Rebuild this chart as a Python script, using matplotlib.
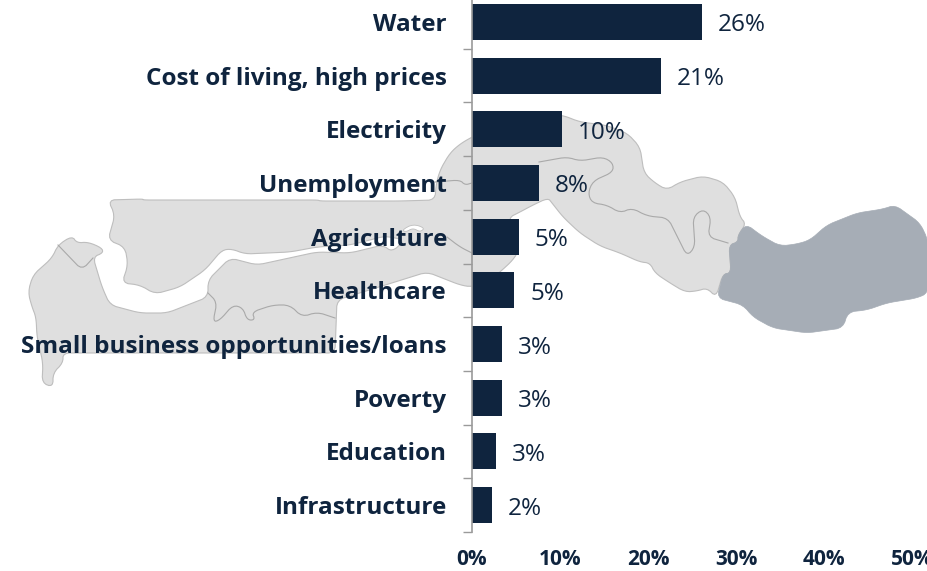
#!/usr/bin/env python3
"""Most important problems bar chart over a faded outline map."""
import matplotlib
matplotlib.use("Agg")
import matplotlib.pyplot as plt
from matplotlib.patches import Polygon
from matplotlib.ticker import FixedLocator

categories = [
    "Water", "Cost of living, high prices", "Electricity", "Unemployment",
    "Agriculture", "Healthcare", "Small business opportunities/loans",
    "Poverty", "Education", "Infrastructure",
]
values = [26.1, 21.5, 10.2, 7.6, 5.3, 4.8, 3.4, 3.4, 2.7, 2.3]
value_labels = ["26%", "21%", "10%", "8%", "5%", "5%", "3%", "3%", "3%", "2%"]
x_ticks = [0, 10, 20, 30, 40, 50]
x_tick_labels = ["0%", "10%", "20%", "30%", "40%", "50%"]

# background map outlines, in picture pixels
MAP_LIGHT = [
    (108, 200), (143, 199), (143, 200), (318, 200), (320, 201), (400, 201),
    (435, 200), (436, 185), (440, 170), (450, 153), (460, 144), (472, 137),
    (520, 115), (562, 115), (580, 122), (605, 125), (627, 133), (640, 147),
    (644, 173), (655, 183), (667, 190), (680, 182), (703, 176), (723, 182),
    (735, 197), (740, 217), (746, 224), (738, 235), (738, 242), (729, 245),
    (731, 273), (723, 274), (716, 297), (707, 288), (697, 291), (685, 292),
    (670, 283), (655, 273), (650, 263), (640, 262), (620, 253), (600, 246),
    (580, 233), (563, 217), (552, 203), (548, 198), (533, 205), (520, 212),
    (508, 218), (519, 250), (513, 260), (500, 272), (490, 280), (472, 287),
    (460, 285), (427, 272), (395, 282), (337, 300), (335, 353), (63, 353),
    (63, 363), (53, 373), (53, 387), (42, 383), (43, 363), (37, 337),
    (36, 317), (32, 307), (28, 292), (33, 275), (52, 258), (58, 245),
    (72, 236), (77, 243), (88, 242), (102, 248), (103, 253), (93, 257),
    (102, 287), (110, 305), (140, 313), (167, 313), (208, 297), (208, 280),
    (230, 258), (257, 265), (317, 252), (350, 253), (383, 245), (392, 252),
    (405, 240), (385, 236), (370, 240), (350, 245), (317, 247), (290, 252),
    (245, 254), (232, 249), (222, 250), (205, 270), (180, 287), (155, 294),
    (140, 285), (122, 283), (128, 265), (125, 247), (108, 240), (115, 215),
]
MAP_DARK = [
    (746, 224), (762, 236), (780, 246), (797, 244), (810, 240), (827, 225),
    (857, 213), (883, 209), (895, 205), (920, 223), (928, 240), (928, 293),
    (917, 298), (887, 303), (867, 310), (848, 312), (843, 328), (807, 333),
    (773, 328), (753, 317), (743, 305), (717, 298),
    (723, 274), (731, 273), (729, 245), (738, 242), (738, 235),
]
MAP_LINES = [
    [(58, 245), (82, 270), (93, 258)],
    [(539, 162), (567, 157), (580, 161), (603, 157), (613, 163), (613, 172),
     (593, 181), (588, 193), (592, 203), (607, 205), (620, 213), (632, 208),
     (647, 216), (668, 218), (678, 238), (687, 256), (695, 247), (693, 217),
     (703, 209), (711, 217), (708, 237), (728, 243)],
    [(208, 293), (217, 302), (213, 322), (220, 320), (233, 305), (243, 308),
     (247, 320), (255, 320), (252, 312), (273, 305), (290, 305), (302, 317),
     (317, 312), (335, 318)],
    [(447, 237), (460, 247), (472, 253)],
    [(435, 182), (460, 180), (465, 185), (472, 183)],
]
MAP_ISLAND = [(402, 230), (413, 224), (425, 228), (420, 232), (413, 228), (406, 232)]

NAVY = "#0F243E"
FONT = "Open Sans"


def round_corners(pts, closed=True, cut=4.0, passes=2):
    # soften the outline: cut each corner by at most `cut` px along its edges
    for _ in range(passes):
        out = []
        n = len(pts)
        for i in range(n):
            if not closed and i == n - 1:
                break
            (x0, y0), (x1, y1) = pts[i], pts[(i + 1) % n]
            length = max(((x1 - x0) ** 2 + (y1 - y0) ** 2) ** 0.5, 1e-6)
            f = min(0.25, cut / length)
            out.append((x0 + (x1 - x0) * f, y0 + (y1 - y0) * f))
            out.append((x1 - (x1 - x0) * f, y1 - (y1 - y0) * f))
        if not closed:
            out = [pts[0]] + out + [pts[-1]]
        pts = out
        cut /= 2
    return pts


fig = plt.figure(figsize=(9.28, 5.71), dpi=100)

bg = fig.add_axes([0, 0, 1, 1], zorder=0)
bg.set_xlim(0, 928)
bg.set_ylim(571, 0)
bg.axis("off")
bg.add_patch(Polygon(round_corners(MAP_LIGHT), closed=True, fc="#DFDFDF", ec="#BEBEBE", lw=0.8))
bg.add_patch(Polygon(round_corners(MAP_DARK), closed=True, fc="#A6ADB6", ec="#A6ADB6", lw=0.5))
bg.add_patch(Polygon(round_corners(MAP_ISLAND), closed=True, fc="white", ec="#BEBEBE", lw=0.6))
for line in MAP_LINES:
    bg.plot(*zip(*round_corners(line, closed=False)), color="#A9A9A9", lw=0.8)

# axes run 5 px past the top of the picture, so the first tick is cut off
left, right, top, bottom = 472, 912, -5, 532
ax = fig.add_axes(
    [left / 928, 1 - bottom / 571, (right - left) / 928, (bottom - top) / 571],
    zorder=1,
)
ax.patch.set_alpha(0)
ax.set_xlim(0, 50)
y = list(range(len(categories)))
ax.set_ylim(len(categories) - 0.5, -0.5)
ax.barh(y, values, height=0.67, color=NAVY)
for yi, v, lab in zip(y, values, value_labels):
    ax.annotate(lab, (v, yi), xytext=(11.5, -2.5), textcoords="offset points",
                ha="left", va="center", color=NAVY, fontsize=17.5, family=FONT)

for s in ["top", "right", "bottom"]:
    ax.spines[s].set_visible(False)
ax.spines["left"].set_color("#9A9A9A")
ax.spines["left"].set_linewidth(1.2)

ax.set_yticks(y, categories, color=NAVY, fontsize=17.5, fontweight="bold", family=FONT)
ax.yaxis.set_minor_locator(FixedLocator([i - 0.5 for i in range(len(categories) + 1)]))
ax.tick_params(axis="y", which="major", length=0, pad=18)
ax.tick_params(axis="y", which="minor", length=6.5, width=1, color="#9A9A9A")
ax.set_xticks(x_ticks, x_tick_labels, color=NAVY, fontsize=15, fontweight="bold", family=FONT)
ax.tick_params(axis="x", length=0, pad=12.5)

fig.savefig("out.png", dpi=100)
